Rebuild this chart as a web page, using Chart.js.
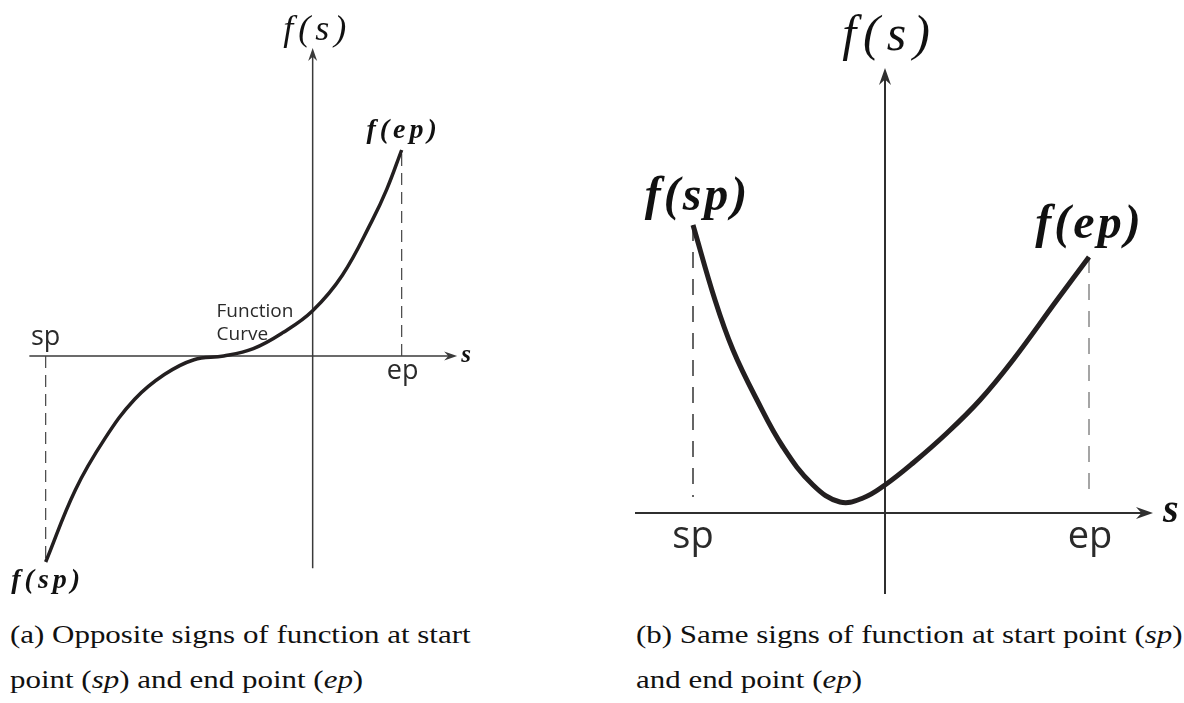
<!DOCTYPE html>
<html>
<head>
<meta charset="utf-8">
<script src="https://cdn.jsdelivr.net/npm/chart.js@4.4.1/dist/chart.umd.min.js"></script>
<style>
  html, body { margin: 0; padding: 0; background: #fff; }
  body { width: 1184px; height: 703px; position: relative; overflow: hidden; }
  canvas { position: absolute; top: 0; }
  #left { left: 0; }
  #right { left: 590px; }
  .cap {
    position: absolute;
    font-family: "Liberation Serif", serif;
    font-size: 26px;
    line-height: 45px;
    color: #111;
    white-space: nowrap;
    transform: scaleX(1.19);
    transform-origin: 0 0;
  }
</style>
</head>
<body>
<canvas id="left" width="480" height="600"></canvas>
<canvas id="right" width="594" height="600"></canvas>
<div class="cap" style="left:10px; top:612px">(a) Opposite signs of function at start<br>point (<i>sp</i>) and end point (<i>ep</i>)</div>
<div class="cap" style="left:636px; top:612px">(b) Same signs of function at start point (<i>sp</i>)<br>and end point (<i>ep</i>)</div>
<script>
// Panel (a): curve crossing zero between sp and ep
const leftS = [-9, -8, -7, -6, -5, -4, -3, -2, -1, 0, 1, 2, 2.5, 3];
const leftF = [-10, -6.5, -4.0, -2.1, -0.9, -0.18, 0.0, 0.36, 1.14, 2.2, 3.92, 6.56, 8.1, 10];

// Panel (b): curve staying positive between sp and ep
const rightS = [-9.6, -8.5, -7.6, -6.4, -5.1, -3.6, -2.25, -1.1, 0, 1.4, 3.1, 4.75, 6.4, 8.6, 10.2];
const rightF = [14.4, 10.65, 8.15, 5.65, 3.3, 1.4, 0.55, 0.75, 1.4, 2.5, 4.0, 5.65, 7.65, 10.65, 12.8];

// Text on the axes and at the curve ends
const tickLabels = ['sp', 'ep'];
const endLabels = ['f(sp)', 'f(ep)'];
const axisTitles = ['f(s)', 's'];
const noteLines = ['Function', 'Curve'];

function toPoints(xs, ys) {
  return xs.map((x, i) => ({ x: x, y: ys[i] }));
}

// Filled arrowhead with a notched back, tip at (x, y)
function arrowHead(ctx, x, y, up, len, wid) {
  ctx.save();
  ctx.translate(x, y);
  if (up) ctx.rotate(-Math.PI / 2);
  ctx.beginPath();
  ctx.moveTo(0, 0);
  ctx.lineTo(-len, -wid / 2);
  ctx.lineTo(-len * 0.68, 0);
  ctx.lineTo(-len, wid / 2);
  ctx.closePath();
  ctx.fill();
  ctx.restore();
}

function drawText(ctx, str, x, y, font, spacing, align, color) {
  ctx.font = font;
  ctx.letterSpacing = spacing + 'px';
  ctx.textAlign = align;
  ctx.fillStyle = color;
  const shift = align === 'center' ? spacing / 2 : 0;
  ctx.fillText(str, x + shift, y);
  ctx.letterSpacing = '0px';
}

const figurePlugin = {
  id: 'figure',
  beforeDatasetsDraw(chart, args, o) {
    const { ctx } = chart;
    const xs = chart.scales.x, ys = chart.scales.y;
    const ox = xs.getPixelForValue(0), oy = ys.getPixelForValue(0);
    ctx.save();
    ctx.strokeStyle = o.axisColor;
    ctx.fillStyle = o.axisColor;
    ctx.lineWidth = o.axisWidth;
    // s axis
    const xa = xs.getPixelForValue(o.axisX[0]), xb = xs.getPixelForValue(o.axisX[1]);
    ctx.beginPath();
    ctx.moveTo(xa, oy);
    ctx.lineTo(xb - o.arrowLen * 0.6, oy);
    ctx.stroke();
    arrowHead(ctx, xb, oy, false, o.arrowLen, o.arrowWid);
    // f(s) axis
    const ya = ys.getPixelForValue(o.axisY[0]), yb = ys.getPixelForValue(o.axisY[1]);
    ctx.beginPath();
    ctx.moveTo(ox, ya);
    ctx.lineTo(ox, yb + o.arrowLen * 0.6);
    ctx.stroke();
    arrowHead(ctx, ox, yb, true, o.arrowLen, o.arrowWid);
    // dashed drop lines from the end points to the s axis
    const data = chart.data.datasets[0].data;
    const ends = [data[0], data[data.length - 1]];
    ctx.setLineDash(o.dash);
    ctx.lineWidth = o.dashWidth;
    ends.forEach((p, i) => {
      const px = xs.getPixelForValue(p.x);
      const py = ys.getPixelForValue(p.y);
      const dir = py < oy ? 1 : -1;
      ctx.strokeStyle = o.dashColors[i];
      ctx.beginPath();
      if (o.dashFromAxis) {
        ctx.moveTo(px, oy);
        ctx.lineTo(px, py);
      } else {
        ctx.moveTo(px, py);
        ctx.lineTo(px, oy - dir * o.dashStop);
      }
      ctx.stroke();
    });
    ctx.restore();
  },
  afterDatasetsDraw(chart, args, o) {
    const { ctx } = chart;
    const xs = chart.scales.x, ys = chart.scales.y;
    const ox = xs.getPixelForValue(0), oy = ys.getPixelForValue(0);
    ctx.save();
    ctx.textBaseline = 'alphabetic';
    drawText(ctx, axisTitles[0], ox + o.fsDx, ys.getPixelForValue(o.axisY[1]) + o.fsDy,
             o.fsFont, o.fsSpacing, 'center', o.mathColor);
    drawText(ctx, axisTitles[1], xs.getPixelForValue(o.axisX[1]) + o.sDx, oy + o.sDy,
             o.sFont, 0, 'left', o.mathColor);
    const data = chart.data.datasets[0].data;
    const ends = [data[0], data[data.length - 1]];
    ends.forEach((p, i) => {
      const px = xs.getPixelForValue(p.x);
      const py = ys.getPixelForValue(p.y);
      drawText(ctx, tickLabels[i], px + o.tickDx[i], oy + o.tickDy[i], o.tickFont, 0, 'center', o.textColor);
      drawText(ctx, endLabels[i], px + o.endDx[i], py + o.endDy[i], o.endFont, o.endSpacing, 'center', o.mathColor);
    });
    if (o.note) {
      const nx = xs.getPixelForValue(o.note.at[0]);
      const ny = ys.getPixelForValue(o.note.at[1]);
      o.note.lines.forEach((line, i) => {
        drawText(ctx, line, nx, ny + i * o.note.lineHeight, o.note.font, 0, 'left', o.textColor);
      });
    }
    ctx.restore();
  }
};

function makeChart(id, xs, ys, range, padding, curve, fig) {
  return new Chart(document.getElementById(id), {
    type: 'line',
    data: {
      datasets: [{
        data: toPoints(xs, ys),
        borderColor: curve.color,
        borderWidth: curve.width,
        pointRadius: 0,
        fill: false,
        tension: curve.tension,
        borderCapStyle: 'butt',
        borderJoinStyle: 'round',
        clip: false
      }]
    },
    options: {
      responsive: false,
      animation: false,
      events: [],
      layout: { padding: padding },
      plugins: { legend: { display: false }, tooltip: { enabled: false }, figure: fig },
      scales: {
        x: { type: 'linear', min: range.x[0], max: range.x[1], display: false },
        y: { type: 'linear', min: range.y[0], max: range.y[1], display: false }
      }
    },
    plugins: [figurePlugin]
  });
}

makeChart('left', leftS, leftF,
  { x: [-10, 5], y: [-11, 15] },
  { left: 16, right: 19, top: 47, bottom: 17.4 },
  { color: '#231f20', width: 3.5, tension: 0.4 },
  {
    axisX: [-9.55, 4.87], axisY: [-10.3, 14.95],
    axisColor: '#3a3a3a', axisWidth: 1.5, arrowLen: 13, arrowWid: 9,
    dash: [12, 7], dashWidth: 1.2, dashColors: ['#444', '#444'], dashFromAxis: true, dashStop: 0,
    mathColor: '#111', textColor: '#2a2a2a',
    fsFont: 'italic 36px "Liberation Serif"', fsSpacing: 5, fsDx: 2, fsDy: -8,
    sFont: 'bold italic 25px "Liberation Serif"', sDx: 4, sDy: 6,
    tickFont: '27px "Open Sans"', tickDx: [0, 1], tickDy: [-11, 23],
    endFont: 'bold italic 28px "Liberation Serif"', endSpacing: 4, endDx: [0, 0], endDy: [26, -12],
    note: { lines: noteLines, at: [-3.24, 1.9], lineHeight: 23, font: '19px "Open Sans"' }
  });

makeChart('right', rightS, rightF,
  { x: [-14, 14], y: [-4.2, 24] },
  { left: 15, right: 19, top: 33, bottom: 3 },
  { color: '#231f20', width: 5, tension: 0.4 },
  {
    axisX: [-12.5, 13.4], axisY: [-4.05, 22.25],
    axisColor: '#2f2f2f', axisWidth: 2, arrowLen: 17, arrowWid: 12,
    dash: [16, 11], dashWidth: 1.5, dashColors: ['#333', '#888'], dashFromAxis: false, dashStop: 16,
    mathColor: '#111', textColor: '#2a2a2a',
    fsFont: 'italic 50px "Liberation Serif"', fsSpacing: 7, fsDx: 1, fsDy: -18,
    sFont: 'bold italic 40px "Liberation Serif"', sDx: 10, sDy: 9,
    tickFont: '38px "Open Sans"', tickDx: [0, 1], tickDy: [35, 35],
    endFont: 'bold italic 48px "Liberation Serif"', endSpacing: 3, endDx: [3, -1], endDy: [-15, -19],
    note: null
  });
</script>
</body>
</html>
